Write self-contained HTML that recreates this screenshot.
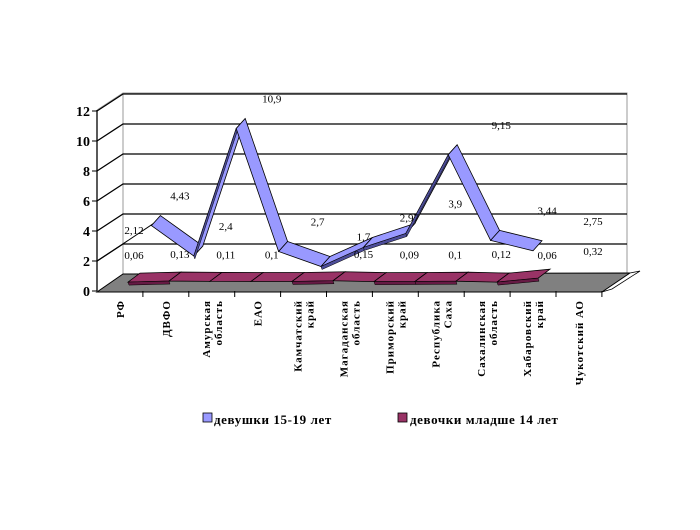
<!DOCTYPE html>
<html><head><meta charset="utf-8"><style>
html,body{margin:0;padding:0;background:#fff;}
svg text{font-family:"Liberation Serif","DejaVu Serif",serif;}
</style></head><body>
<svg id="chart" width="700" height="525" viewBox="0 0 700 525" xmlns="http://www.w3.org/2000/svg">
<g id="walls"></g>
<g id="grid"></g>
<g id="floor"></g>
<g id="s1"></g>
<g id="s2"></g>
<g id="labels"></g>
<g id="yaxis"></g>
<g id="xaxis"></g>
<g>
  <rect x="203" y="413" width="9" height="9" fill="#9999ff" stroke="#000" stroke-width="0.8"/>
  <text x="214" y="424" font-size="13" font-weight="bold" letter-spacing="0.6">девушки 15-19 лет</text>
  <rect x="398" y="413" width="9" height="9" fill="#993366" stroke="#000" stroke-width="0.8"/>
  <text x="410" y="424" font-size="13" font-weight="bold" letter-spacing="0.6">девочки младше 14 лет</text>
</g>
</svg>
<script>
const categories=[["РФ"],["ДВФО"],["Амурская","область"],["ЕАО"],["Камчатский","край"],["Магаданская","область"],["Приморский","край"],["Республика","Саха"],["Сахалинская","область"],["Хабаровский","край"],["Чукотский АО"]];
const girls1519=[2.12,4.43,2.4,10.9,2.7,1.7,2.97,3.9,9.15,3.44,2.75];
const girlsUnder14=[0.06,0.13,0.11,0.1,0.1,0.15,0.09,0.1,0.12,0.06,0.32];
const labels1519=["2,12","4,43","2,4","10,9","2,7","1,7","2,97","3,9","9,15","3,44","2,75"];
const labelsUnder14=["0,06","0,13","0,11","0,1","","0,15","0,09","0,1","0,12","0,06","0,32"];
const yTicks=[0,2,4,6,8,10,12];

const NS="http://www.w3.org/2000/svg";
function mk(tag,attrs,parent){const e=document.createElementNS(NS,tag);for(const k in attrs)e.setAttribute(k,attrs[k]);parent.appendChild(e);return e;}
const PX=15;
function yFront(v){return 291-PX*v;}
function yBack(v){return 274-PX*v;}
function catX(i){return 120+45.9*i;}
function s1X(i){return 118+42.4*i;}
function s1Y(v){return 282-PX*v;}
function s2X(i){return 140+41*i;}
function s2Y(v){return 274-PX*v;}

const walls=document.getElementById('walls');
let w=mk('polyline',{points:"97,110 123,93 627,93 627,274",fill:"none",stroke:"#999","stroke-width":1},walls);

w=mk('line',{x1:123,y1:93,x2:123,y2:274,stroke:"#999","stroke-width":1},walls);


const grid=document.getElementById('grid');
yTicks.forEach(v=>{if(v===0)return;
  const g=mk('polyline',{points:`97,${yFront(v)} 123,${yBack(v)} 627,${yBack(v)}`,fill:"none",stroke:"#000","stroke-width":1.3},grid);
  
});

const floor=document.getElementById('floor');
let f=mk('polygon',{points:"97,292 602,292 630,273 123,274",fill:"#808080",stroke:"#000","stroke-width":1},floor);

f=mk('polyline',{points:"602,292 630,273 640,271 612,289 602,292",fill:"#fff",stroke:"#000","stroke-width":0.8},floor);


function ribbon(g,vals,fx,fy,dx,dy,top,side,name,start){
  for(let i=start;i<vals.length-1;i++){
    const x1=fx(i),y1=fy(vals[i]),x2=fx(i+1),y2=fy(vals[i+1]);
    const up=y2<y1;
    const p=mk('polygon',{points:`${x1},${y1} ${x2},${y2} ${x2+dx},${y2+dy} ${x1+dx},${y1+dy}`,fill:top,stroke:"#000","stroke-width":0.8},g);
    
    if(up){
      const s=mk('polygon',{points:`${x1+dx},${y1+dy} ${x2+dx},${y2+dy} ${x2+dx+1},${y2+dy+3} ${x1+dx+1},${y1+dy+3}`,fill:side,stroke:"#000","stroke-width":0.5},g);
      
    }
  }
}
const s1g=document.getElementById('s1');
let rl=mk('line',{x1:97,y1:yFront(girls1519[0])+2,x2:s1X(1)-4,y2:s1Y(girls1519[1])+6,stroke:"#000","stroke-width":1},s1g);

ribbon(s1g,girls1519,s1X,s1Y,-9,10,"#9999ff","#4d4d99","girls-15-19",1);
ribbon(document.getElementById('s2'),girlsUnder14,s2X,s2Y,-12,9,"#993366","#661a44","girls-under-14",0);

const lg=document.getElementById('labels');
girls1519.forEach((v,i)=>{
  const t=mk('text',{x:catX(i)+14,y:s1Y(v)-16,"font-size":11,"text-anchor":"middle"},lg);
  t.textContent=labels1519[i];
  
});
girlsUnder14.forEach((v,i)=>{
  if(!labelsUnder14[i])return;
  const t=mk('text',{x:catX(i)+14,y:s2Y(v)-14,"font-size":11,"text-anchor":"middle"},lg);
  t.textContent=labelsUnder14[i];
  
});

const ya=document.getElementById('yaxis');
let al=mk('line',{x1:97,y1:110,x2:97,y2:291,stroke:"#000","stroke-width":1.3},ya);

yTicks.forEach(v=>{
  const tk=mk('line',{x1:92,y1:yFront(v),x2:97,y2:yFront(v),stroke:"#000","stroke-width":1},ya);
  
  const t=mk('text',{x:90,y:yFront(v)+5,"font-size":14,"font-weight":"bold","text-anchor":"end"},ya);
  t.textContent=String(v);
  
});

const xa=document.getElementById('xaxis');
categories.forEach((c,i)=>{
  const tx=97+45.9*(i+1);
  const tk=mk('line',{x1:tx,y1:291,x2:tx,y2:297,stroke:"#000","stroke-width":1},xa);
  
  const cx=catX(i);
  c.forEach((line,j)=>{
    const lx=cx-(c.length-1)*6+j*12+4;
    const t=mk('text',{x:lx,y:300,"font-size":11,"font-weight":"bold","letter-spacing":"1","text-anchor":"end",transform:`rotate(-90 ${lx} 300)`},xa);
    t.textContent=line;
    
  });
});
</script>
</body></html>
